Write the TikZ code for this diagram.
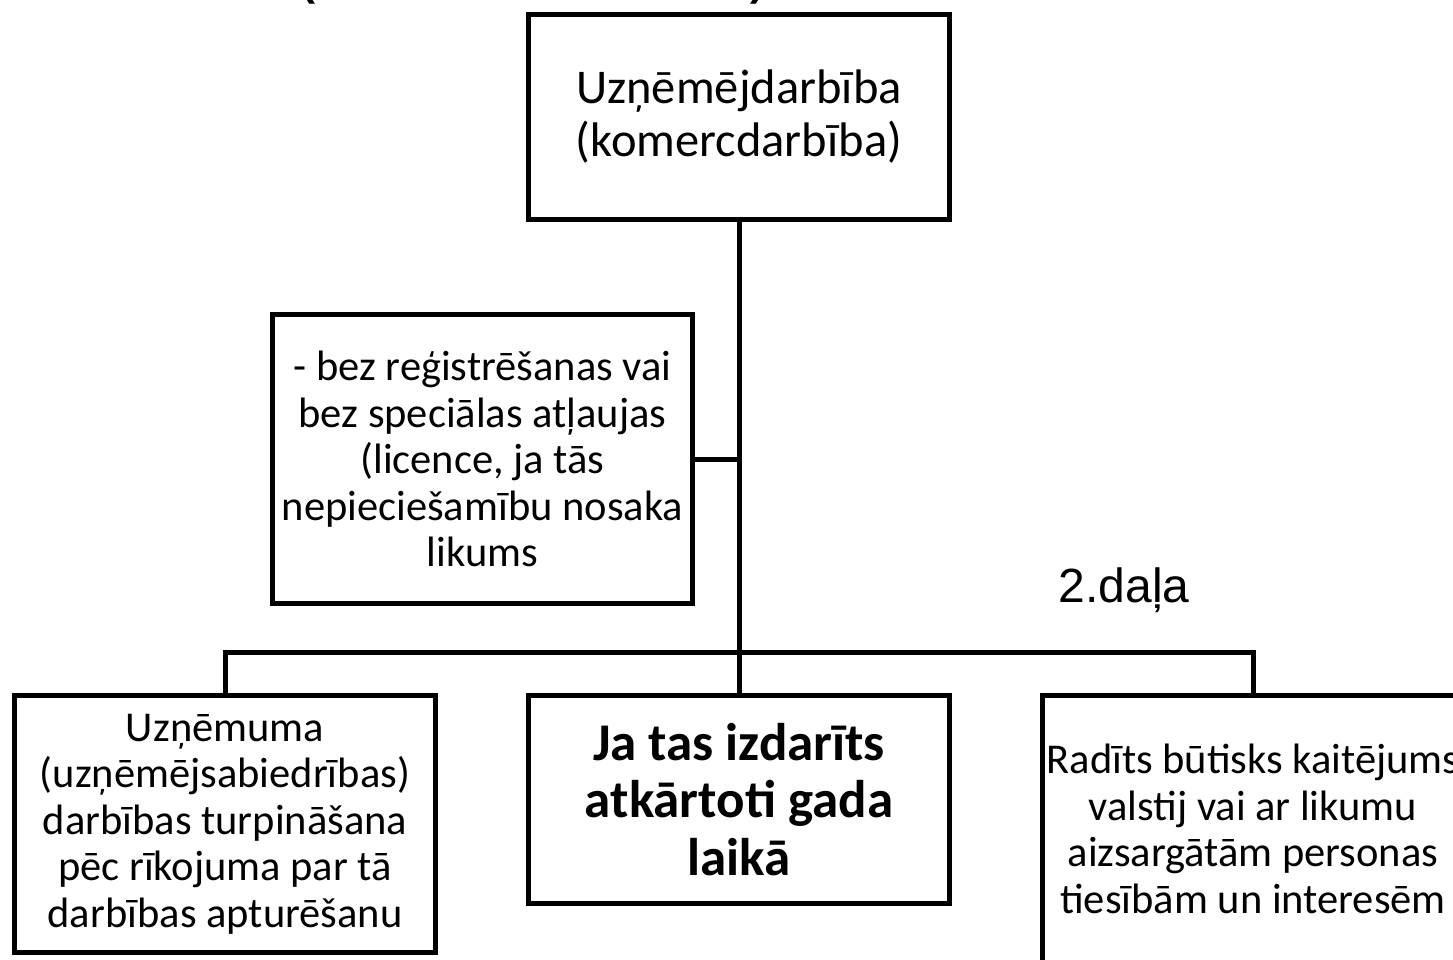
\documentclass[tikz,border=0pt]{standalone}
\usepackage{fontspec}
\setmainfont{Carlito}
\newfontfamily\arialf{Liberation Sans}
\begin{document}
\begin{tikzpicture}[x=1pt,y=-1pt,
  box/.style={draw=black, line width=5pt, align=center, inner sep=0pt, fill=white},
  txt/.style={font=\fontsize{42.5}{46.5}\selectfont},
  conn/.style={draw=black, line width=5pt}]
\useasboundingbox (0,0) rectangle (1453,959);
\clip (0,0) rectangle (1453,959);
% cut-off title fragments
\node[anchor=base, inner sep=0pt, font=\arialf\bfseries\fontsize{42}{50}\selectfont] (parL) at (308,-4.8) {(};
\node[anchor=base, inner sep=0pt, font=\arialf\bfseries\fontsize{42}{50}\selectfont] (parR) at (757,-4.8) {)};
% boxes
\node[box, minimum width=421pt, minimum height=205pt, font=\fontsize{48.5}{53}\selectfont] (top) at (739,117) {Uzņēmējdarbība\\(komercdarbība)};
\node[box, txt, minimum width=420pt, minimum height=289pt] (side) at (482.5,459) {- bez reģistrēšanas vai\\bez speciālas atļaujas\\(licence, ja tās\\nepieciešamību nosaka\\likums};
\node[box, txt, minimum width=421pt, minimum height=257pt] (left) at (225,824) {Uzņēmuma\\(uzņēmējsabiedrības)\\darbības turpināšana\\pēc rīkojuma par tā\\darbības apturēšanu};
\node[box, minimum width=421pt, minimum height=208pt, font=\bfseries\fontsize{53}{57.5}\selectfont] (mid) at (739,799.5) {Ja tas izdarīts\\atkārtoti gada\\laikā};
\node[box, txt, minimum width=421pt, minimum height=267pt] (right) at (1253,829) {Radīts būtisks kaitējums\\valstij vai ar likumu\\aizsargātām personas\\tiesībām un interesēm};
\node[font=\arialf\fontsize{48}{54}\selectfont, inner sep=0pt] (part) at (1124,590) {2.daļa};
% connectors
\coordinate (bus) at (739,652);
\draw[conn] (top.south) -- (mid.north);
\draw[conn] (side.east) -- (side.east -| top.south);
\draw[conn] (left.north) |- (bus) -| (right.north);
\end{tikzpicture}
\end{document}
